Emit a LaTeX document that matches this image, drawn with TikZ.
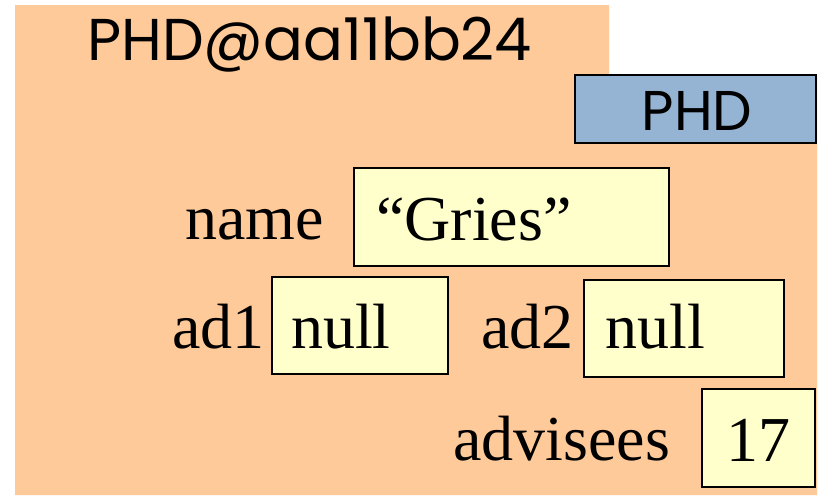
\documentclass[tikz,border=0pt]{standalone}
\usepackage{fontspec}
\setmainfont{Liberation Serif}
\newfontfamily\geofont{Poppins}
\definecolor{peach}{HTML}{FFCA99}
\definecolor{cellyellow}{HTML}{FFFFCC}
\definecolor{classblue}{HTML}{95B3D3}
\tikzset{
  field/.style={draw=black, line width=2pt, fill=cellyellow, inner sep=0pt},
  word/.style={inner sep=0pt, anchor=base west, font=\fontsize{64}{70}\selectfont},
}
\begin{document}
\begin{tikzpicture}[x=1pt, y=-1pt]
  \useasboundingbox (0,0) rectangle (821,496);
  % object body
  \fill[peach] (15,5) -- (609,5) -- (609,75) -- (817,75) -- (817,495) -- (15,495) -- cycle;
  \node[inner sep=0pt, anchor=base west, font=\geofont\fontsize{59}{64}\selectfont] (title) at (87,60) {PHD@aa11bb24};
  % class tab
  \node[draw=black, line width=2.5pt, fill=classblue, minimum width=241pt, minimum height=68pt, inner sep=0pt] (cls) at (695.5,109) {};
  \node[inner sep=0pt, anchor=base, font=\geofont\fontsize{56}{60}\selectfont] (clsname) at (697,130) {PHD};
  % fields
  \node[field, minimum width=315pt, minimum height=98pt] (namebox) at (511.5,217) {};
  \node[field, minimum width=176pt, minimum height=97pt] (adonebox) at (360,325.5) {};
  \node[field, minimum width=200pt, minimum height=97pt] (adtwobox) at (684,328.5) {};
  \node[field, minimum width=113pt, minimum height=98pt] (advbox) at (758.5,438) {};
  % labels
  \node[word] (namelbl) at (185,239) {name};
  \node[word] (adonelbl) at (172,348) {ad1};
  \node[word] (adtwolbl) at (481,348) {ad2};
  \node[word] (advlbl) at (453,460) {advisees};
  % values
  \node[word] (nameval) at (376,240) {“Gries”};
  \node[word] (adoneval) at (291,348) {null};
  \node[word] (adtwoval) at (605,348) {null};
  \node[word] (advval) at (726,461) {17};
\end{tikzpicture}
\end{document}
